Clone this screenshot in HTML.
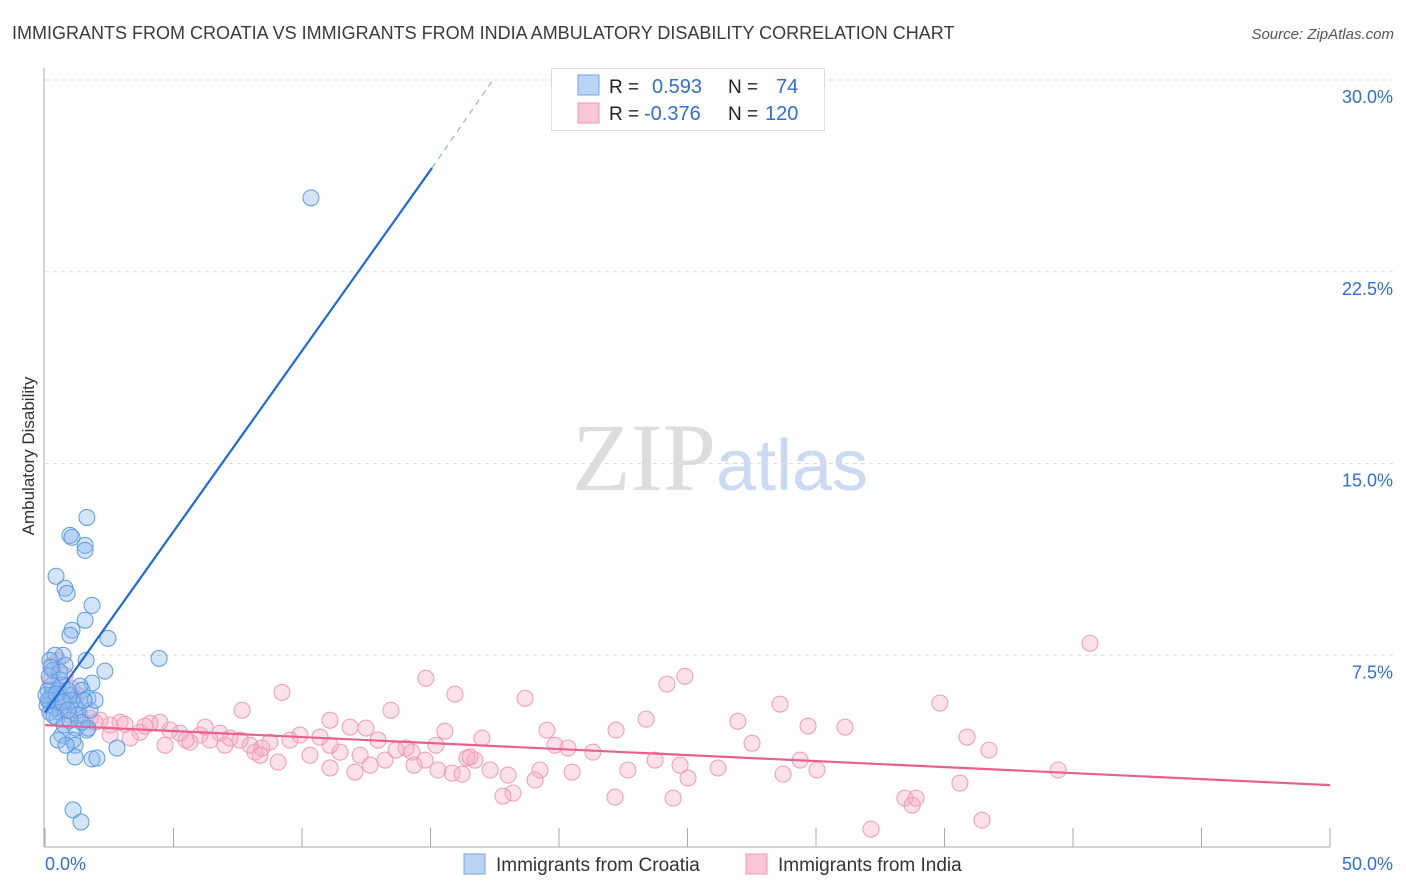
<!DOCTYPE html>
<html><head><meta charset="utf-8"><style>
body{margin:0;background:#fff;font-family:"Liberation Sans",sans-serif;}
svg{display:block}
</style></head><body>
<svg id="chart" width="1406" height="892" xmlns="http://www.w3.org/2000/svg" font-family="Liberation Sans, sans-serif">
<text x="12" y="39" font-size="18" fill="#3a3a3a">IMMIGRANTS FROM CROATIA VS IMMIGRANTS FROM INDIA AMBULATORY DISABILITY CORRELATION CHART</text>
<text x="1394" y="39" font-size="15" fill="#555" font-style="italic" text-anchor="end">Source: ZipAtlas.com</text>
<text x="720" y="490" font-size="96" text-anchor="middle" fill="#ddd" font-family="Liberation Serif, serif">ZIP<tspan fill="#c9daf2" font-family="Liberation Sans, sans-serif" font-size="72">atlas</tspan></text>
<g id="grid"></g>
<g id="axes"></g>
<g id="pts"></g>
<g id="trends"></g>
<text transform="translate(34,456) rotate(-90)" font-size="17" fill="#333" text-anchor="middle">Ambulatory Disability</text>
<g>
<rect x="551.5" y="68.5" width="273" height="62" fill="#fff" stroke="#ddd"/>
<rect x="578" y="75" width="21" height="20" fill="#b9d3f5" stroke="#6fa3e3"/>
<rect x="578" y="103" width="21" height="20" fill="#f9c6d6" stroke="#ef9ab6"/>
<text x="609" y="93" font-size="19" fill="#222">R = </text><text x="652" y="93" font-size="20" fill="#2e6fd6">0.593</text>
<text x="728" y="93" font-size="19" fill="#222">N = </text><text x="776" y="93" font-size="20" fill="#2e6fd6">74</text>
<text x="609" y="120" font-size="19" fill="#222">R = </text><text x="644" y="120" font-size="20" fill="#2e6fd6">-0.376</text>
<text x="728" y="120" font-size="19" fill="#222">N = </text><text x="765" y="120" font-size="20" fill="#2e6fd6">120</text>
</g>
<g>
<rect x="464" y="854" width="21" height="20" fill="#b9d3f5" stroke="#6fa3e3"/>
<text x="496" y="871" font-size="19" fill="#333">Immigrants from Croatia</text>
<rect x="746" y="854" width="21" height="20" fill="#f9c6d6" stroke="#ef9ab6"/>
<text x="778" y="871" font-size="19" fill="#333">Immigrants from India</text>
</g>
</svg>
<script>
const yTicks=[7.5,15,22.5,30];
const yTickLabels=["7.5%","15.0%","22.5%","30.0%"];
const xTickValues=[0,5,10,15,20,25,30,35,40,45,50];
const xEndLabels=["0.0%","50.0%"];
const croatiaX=[10.35,1.63,0.97,1.05,1.56,1.56,0.43,0.78,0.86,1.83,1.56,1.05,0.97,2.45,4.44,1.60,0.70,2.33,1.83,1.36,1.44,1.67,0.39,0.19,0.31,0.58,0.12,0.27,0.19,0.08,0.39,0.58,0.78,0.97,1.17,1.28,0.51,0.66,0.89,1.05,0.47,0.66,1.21,1.09,1.17,1.63,1.67,2.80,1.17,1.83,2.02,1.09,1.40,0.19,0.35,0.12,0.04,0.27,0.78,0.58,1.28,1.44,1.75,1.95,0.51,0.82,1.52,0.97,0.74,0.43,0.16,0.23,0.70,0.89];
const croatiaY=[25.39,12.89,12.19,12.11,11.80,11.60,10.59,10.12,9.92,9.45,8.87,8.48,8.28,8.16,7.38,7.30,7.50,6.88,6.41,6.29,6.13,5.82,7.50,7.30,6.91,6.52,6.13,5.94,5.74,5.55,5.43,5.27,5.74,5.94,5.55,5.35,6.13,6.33,6.13,5.74,5.04,4.38,4.65,4.18,3.98,4.57,4.65,3.87,3.52,3.44,3.48,1.45,0.98,5.27,5.12,5.74,5.94,6.33,7.11,6.84,5.16,4.88,5.35,5.74,4.18,3.98,5.74,4.96,4.77,5.98,6.68,7.03,5.66,5.35];
const indiaX=[40.66,24.90,24.20,14.82,9.22,15.95,18.68,7.67,13.46,34.82,28.60,26.96,23.39,29.69,31.13,22.22,15.56,19.53,35.88,27.51,36.73,19.84,20.35,21.32,17.00,12.96,14.05,13.66,14.28,12.26,11.48,11.09,10.70,9.92,9.53,8.75,8.44,8.17,7.98,7.59,7.20,6.81,6.42,6.03,5.64,5.25,4.86,4.47,4.09,3.70,3.31,2.92,2.53,2.14,1.75,1.36,0.97,0.58,0.39,0.19,0.27,0.51,0.78,1.05,1.28,1.95,2.53,3.11,3.89,4.67,5.49,6.23,7.00,8.37,9.07,10.31,11.09,12.06,12.65,13.23,14.36,14.79,15.29,15.84,16.23,16.42,16.73,17.32,18.02,18.21,17.82,19.07,19.26,20.51,22.18,22.68,23.74,24.44,24.71,25.02,26.19,28.72,29.38,30.04,32.14,33.46,33.89,33.74,35.60,36.46,39.42,15.21,16.54,11.09,11.87,12.49];
const indiaY=[7.97,6.68,6.37,6.60,6.05,5.98,5.82,5.35,5.35,5.63,5.59,4.92,5.00,4.73,4.69,4.57,4.53,4.57,4.30,4.06,3.79,3.98,3.87,3.71,4.26,4.18,3.87,3.79,3.71,3.59,3.71,3.98,4.30,4.38,4.18,4.10,3.87,3.71,3.98,4.18,4.26,4.45,4.18,4.38,4.10,4.45,4.57,4.88,4.84,4.49,4.26,4.88,4.77,4.96,5.04,5.16,5.16,5.43,5.74,6.52,7.11,7.30,6.72,6.21,5.94,4.88,4.38,4.80,4.73,3.98,4.18,4.69,3.98,3.59,3.32,3.59,3.09,2.93,3.20,3.40,3.20,3.40,3.01,2.89,2.85,3.48,3.40,3.01,2.81,2.11,1.99,2.62,3.01,2.93,1.95,3.01,3.40,1.91,3.20,2.70,3.09,2.85,3.40,3.01,0.70,1.91,1.91,1.64,2.50,1.05,3.01,3.98,3.52,4.96,4.69,4.65];
const croatiaTrend=[[0,5.27],[15.06,26.56]];
const croatiaTrendExt=[[15.06,26.56],[17.4,29.96]];
const indiaTrend=[[0,4.77],[50,2.42]];

const X0=45,X1=1330,YB=847,YT=80;
const sx=v=>X0+(X1-X0)*v/50;
const sy=v=>YB-(YB-YT)*v/30;
const NS="http://www.w3.org/2000/svg";
function mk(tag,attrs,parent){const e=document.createElementNS(NS,tag);for(const k in attrs)e.setAttribute(k,attrs[k]);parent.appendChild(e);return e;}
const grid=document.getElementById('grid'),axes=document.getElementById('axes'),pts=document.getElementById('pts'),tr=document.getElementById('trends');
yTicks.forEach((t,i)=>{
  const l=mk('line',{x1:X0,x2:1394,y1:sy(t),y2:sy(t),stroke:'#ddd','stroke-dasharray':'4,4'},grid);
  
  
  const tx=mk('text',{x:1393,y:sy(t)+23,'font-size':18,fill:'#2e6fd6','text-anchor':'end'},axes);
  tx.textContent=yTickLabels[i];
  
  
});
const ya=mk('line',{x1:44,x2:44,y1:68,y2:YB,stroke:'#aaa'},axes);


const xa=mk('line',{x1:44,x2:X1,y1:YB,y2:YB,stroke:'#aaa'},axes);


xTickValues.forEach(v=>{
  const t=mk('line',{x1:sx(v),x2:sx(v),y1:828,y2:YB,stroke:'#aaa'},axes);
  
  
});
const xl0=mk('text',{x:45,y:870,'font-size':18,fill:'#2e6fd6'},axes);xl0.textContent=xEndLabels[0];


const xl1=mk('text',{x:1393,y:870,'font-size':18,fill:'#2e6fd6','text-anchor':'end'},axes);xl1.textContent=xEndLabels[1];


indiaX.forEach((x,i)=>{
  const c=mk('circle',{cx:sx(x),cy:sy(indiaY[i]),r:8,fill:'rgba(246,168,195,0.35)',stroke:'#f09ab5','stroke-width':1},pts);
  
  
});
croatiaX.forEach((x,i)=>{
  const c=mk('circle',{cx:sx(x),cy:sy(croatiaY[i]),r:8,fill:'rgba(140,185,238,0.38)',stroke:'#5b9be0','stroke-width':1},pts);
  
  
});
const l1=mk('line',{x1:sx(croatiaTrend[0][0]),y1:sy(croatiaTrend[0][1]),x2:sx(croatiaTrend[1][0]),y2:sy(croatiaTrend[1][1]),stroke:'#1e6bd6','stroke-width':2.2},tr);


const l2=mk('line',{x1:sx(croatiaTrendExt[0][0]),y1:sy(croatiaTrendExt[0][1]),x2:sx(croatiaTrendExt[1][0]),y2:sy(croatiaTrendExt[1][1]),stroke:'#8fb5ea','stroke-width':1.2,'stroke-dasharray':'6,5'},tr);


const l3=mk('line',{x1:sx(indiaTrend[0][0]),y1:sy(indiaTrend[0][1]),x2:sx(indiaTrend[1][0]),y2:sy(indiaTrend[1][1]),stroke:'#e8608c','stroke-width':2.2},tr);


</script>
</body></html>
